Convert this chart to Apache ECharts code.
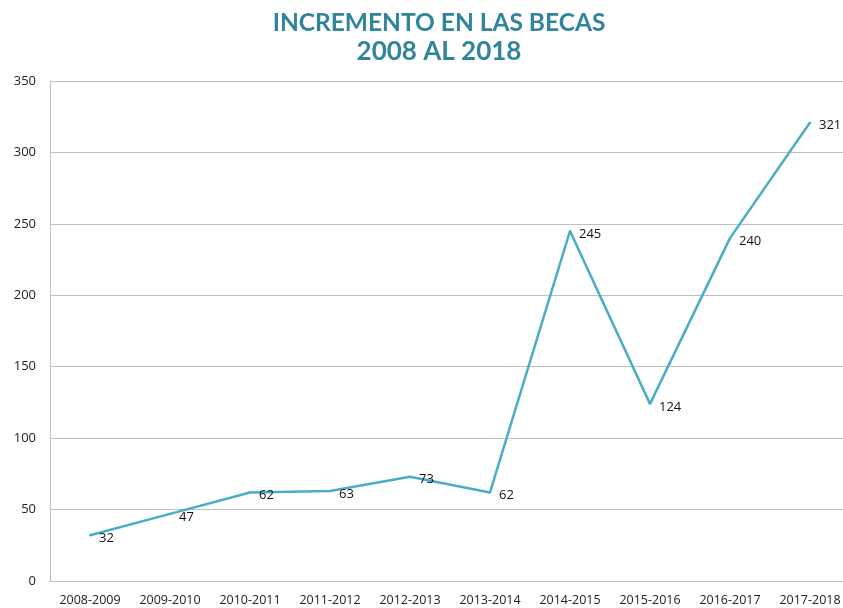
<!DOCTYPE html>
<html><head><meta charset="utf-8">
<script src="https://cdn.jsdelivr.net/npm/echarts@6/dist/echarts.min.js"></script>
<style>html,body{margin:0;padding:0;background:#fff}#c{width:843px;height:608px}</style>
</head><body><div id="c"></div>
<script>
const categories = ['2008-2009','2009-2010','2010-2011','2011-2012','2012-2013','2013-2014','2014-2015','2015-2016','2016-2017','2017-2018'];
const becas = [32,47,62,63,73,62,245,124,240,321];
const yTicks = {min:0, max:350, interval:50};
const titleLines = ['INCREMENTO EN LAS BECAS', '2008 AL 2018'];
const chart = echarts.init(document.getElementById('c'));
const tStyle = {fontFamily:'Lato', fontWeight:'bold', color:'#31849B'};
chart.setOption({
  animation:false,
  title:[
    {text:titleLines[0], left:434, textAlign:'center', top:6, textStyle:Object.assign({fontSize:24.5}, tStyle)},
    {text:titleLines[1], left:434, textAlign:'center', top:34, textStyle:Object.assign({fontSize:26}, tStyle)}
  ],
  grid:{left:50, top:81, width:800, height:500, containLabel:false, outerBoundsMode:'none'},
  xAxis:{type:'category', data:categories, boundaryGap:true,
    axisLine:{lineStyle:{color:'#BFBFBF'}}, axisTick:{show:false},
    axisLabel:{color:'#222', fontFamily:'Open Sans', fontSize:12.5, margin:13, interval:0}},
  yAxis:{type:'value', min:yTicks.min, max:yTicks.max, interval:yTicks.interval,
    axisLine:{show:true, lineStyle:{color:'#BFBFBF'}}, axisTick:{show:false},
    splitLine:{lineStyle:{color:'#BFBFBF'}},
    axisLabel:{color:'#222', fontFamily:'Open Sans', fontSize:13, margin:14}},
  series:[{type:'line', data:becas, symbol:'circle', symbolSize:2, showSymbol:true,
    lineStyle:{color:'#4BACC6', width:2.5}, itemStyle:{color:'#4BACC6'},
    label:{show:true, position:'right', distance:8, offset:[0,3], color:'#111', fontFamily:'Open Sans', fontSize:13}}]
});
</script></body></html>
